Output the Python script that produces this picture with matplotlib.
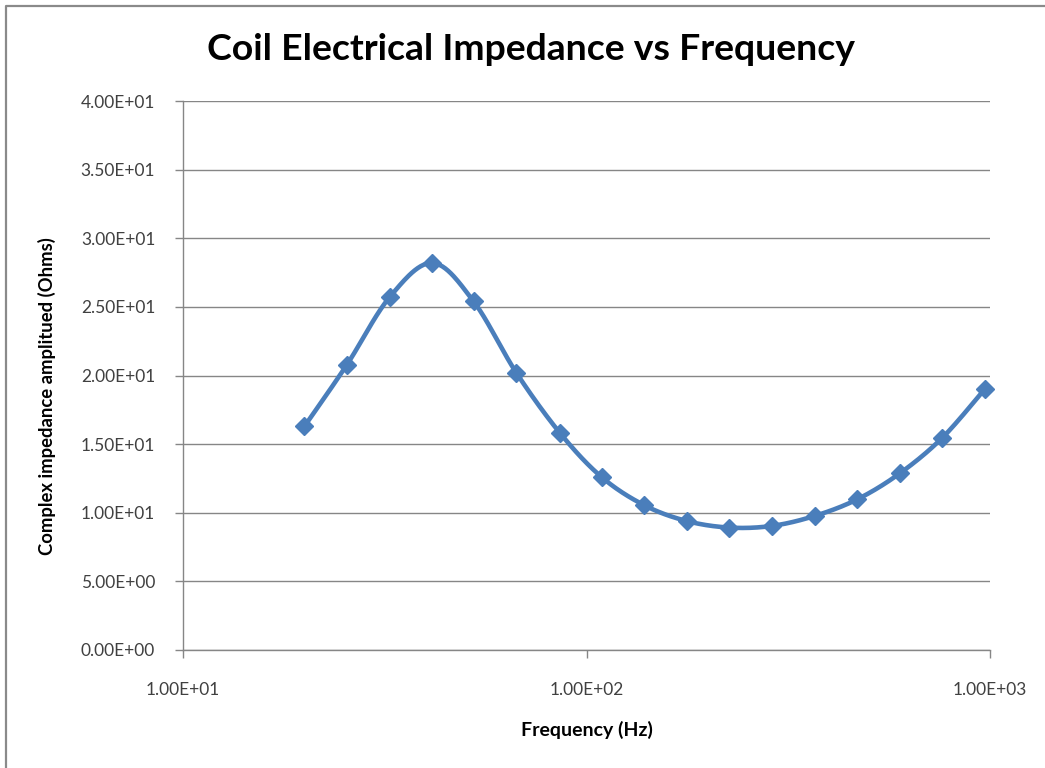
import numpy as np
import matplotlib
matplotlib.use("Agg")
import matplotlib.pyplot as plt
from matplotlib.lines import Line2D
from matplotlib.ticker import FixedLocator, FuncFormatter, NullLocator

# Data
freq_hz = [20, 25.5, 32.5, 41.5, 52.5, 67, 86, 109, 139, 177, 226, 288, 368, 469, 597, 761, 970]
impedance_ohm = [16.3, 20.8, 25.7, 28.2, 25.4, 20.2, 15.8, 12.6, 10.55, 9.4, 8.92, 9.04, 9.77, 10.98, 12.86, 15.45, 19.0]
y_ticks = [0, 5, 10, 15, 20, 25, 30, 35, 40]
x_ticks = [10, 100, 1000]

title = "Coil Electrical Impedance vs Frequency"
xlabel = "Frequency (Hz)"
ylabel = "Complex impedance amplitued (Ohms)"

BLUE = "#4A7EBB"
GRID = "#868686"
TXT = "#404040"

plt.rcParams['font.family'] = ['Lato', 'DejaVu Sans']

fig = plt.figure(figsize=(10.45, 7.68), dpi=100)
ax = fig.add_axes([183/1045, 1-650/768, (990-183)/1045, (650-101)/768])

ax.set_xscale('log')
ax.set_xlim(10, 1000)
ax.set_ylim(0, 40)


def smooth_curve(xs, ys, n=30):
    # Catmull-Rom style smoothing (like Excel smoothed line) in axis-normalised space
    u = (np.log10(xs) - 1) / 2 * 807
    v = np.asarray(ys) / 40 * 549
    P = np.column_stack([u, v])
    out = []
    for i in range(len(P) - 1):
        p0 = P[i - 1] if i > 0 else P[i]
        p1 = P[i]
        p2 = P[i + 1]
        p3 = P[i + 2] if i + 2 < len(P) else P[i + 1]
        c1 = p1 + (p2 - p0) / 6
        c2 = p2 - (p3 - p1) / 6
        t = np.linspace(0, 1, n)[:, None]
        seg = ((1 - t) ** 3) * p1 + 3 * ((1 - t) ** 2) * t * c1 + 3 * (1 - t) * t ** 2 * c2 + t ** 3 * p2
        out.append(seg if i == 0 else seg[1:])
    S = np.vstack(out)
    sx = 10 ** (S[:, 0] / 807 * 2 + 1)
    sy = S[:, 1] / 549 * 40
    return sx, sy


sx, sy = smooth_curve(freq_hz, impedance_ohm)
ax.plot(sx, sy, color=BLUE, lw=3.3, solid_capstyle='round', zorder=3, clip_on=False)
ax.plot(freq_hz, impedance_ohm, linestyle='none', marker='D', markersize=9.5,
        color=BLUE, markeredgecolor=BLUE, zorder=4, clip_on=False)

ax.yaxis.set_major_locator(FixedLocator(y_ticks))
ax.xaxis.set_major_locator(FixedLocator(x_ticks))
ax.xaxis.set_minor_locator(NullLocator())
fmt = FuncFormatter(lambda v, p: "%.2E" % v)
ax.yaxis.set_major_formatter(fmt)
ax.xaxis.set_major_formatter(fmt)

ax.grid(axis='y', color=GRID, lw=1.0)
ax.set_axisbelow(True)
for s in ['top', 'right']:
    ax.spines[s].set_visible(False)
for s in ['left', 'bottom']:
    ax.spines[s].set_color(GRID)
    ax.spines[s].set_linewidth(1.0)

ax.tick_params(axis='y', direction='out', length=6, width=1, color=GRID,
               labelcolor=TXT, labelsize=12.5, pad=14)
ax.tick_params(axis='x', direction='out', length=6, width=1, color=GRID,
               labelcolor=TXT, labelsize=12.5, pad=17)

fig.text(587/1045, 1-730/768, xlabel, ha='center', va='center', fontsize=14, fontweight='bold')
fig.text(47/1045, 1-396/768, ylabel, ha='center', va='center', rotation=90,
         fontsize=13.3, fontweight='bold')
fig.text(531/1045, 1-50/768, title, ha='center', va='center', fontsize=26.9, fontweight='bold')

# chart-area border (only left and top edges are visible in the reference crop)
fig.add_artist(Line2D([5.5/1045, 5.5/1045, 1.0], [0.0, 1-5.5/768, 1-5.5/768],
                      transform=fig.transFigure, color='#8a8a8a', lw=1.6))

fig.savefig("out.png", dpi=100)
